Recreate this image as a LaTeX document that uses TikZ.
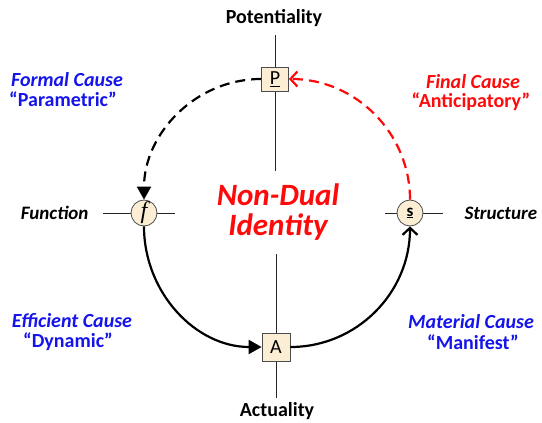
\documentclass[tikz,border=0pt]{standalone}
\usepackage{fontspec}
\setmainfont{Carlito}
\newfontfamily\serifit{Liberation Serif}
\usetikzlibrary{arrows.meta}
\definecolor{cblue}{RGB}{20,20,235}
\definecolor{cred}{RGB}{255,10,10}
\definecolor{beige}{RGB}{252,238,212}
\begin{document}
\begin{tikzpicture}[x=1pt,y=-1pt,
  axis/.style={line width=1pt,black!85},
  boxnode/.style={draw=black!70,line width=0.8pt,fill=beige,minimum width=27pt,minimum height=24pt,inner sep=0pt,font=\fontsize{20}{20}\selectfont},
  circnode/.style={circle,draw=black!70,line width=0.8pt,fill=beige,minimum size=26pt,inner sep=0pt},
  flow/.style={line width=2.2pt,black},
  cause/.style={inner sep=0pt,font=\bfseries\itshape\fontsize{20}{22}\selectfont},
  causesub/.style={inner sep=0pt,font=\bfseries\fontsize{20}{22}\selectfont},
  pole/.style={font=\bfseries\fontsize{20}{20}\selectfont},
  side/.style={font=\bfseries\itshape\fontsize{19}{20}\selectfont}
]
\useasboundingbox (0,0) rectangle (542,423);
% axis end points
\coordinate (pt) at (275,35);
\coordinate (pb) at (275,171);
\coordinate (at) at (276,254);
\coordinate (ab) at (276,398);
\coordinate (fl) at (103,213);
\coordinate (fr) at (175,213);
\coordinate (sl) at (385,213);
\coordinate (sr) at (443,213);
\draw[axis] (pt) -- (pb);
\draw[axis] (at) -- (ab);
\draw[axis] (fl) -- (fr);
\draw[axis] (sl) -- (sr);
% nodes
\node[boxnode] (P) at (275,79) {\underline{P}};
\node[boxnode,minimum width=28pt,minimum height=28pt] (A) at (276,347) {A};
\node[circnode] (f) at (144,213) {\serifit\itshape\fontsize{24}{24}\selectfont f};
\node[circnode] (s) at (410,213) {\bfseries\fontsize{17}{17}\selectfont\underline{s}};
% connectors
\draw[flow,dash pattern=on 10pt off 6pt,-{Triangle[length=13pt,width=14pt]}] (P.west) to[out=180,in=90] (f.north);
\draw[flow,cred,dash pattern=on 10pt off 6pt,-{Straight Barb[length=7pt,width=15pt,line width=2.2pt]}] (s.north) to[out=90,in=0] (P.east);
\draw[flow,-{Triangle[length=13pt,width=14pt]}] (f.south) to[out=-90,in=180] (A.west);
\draw[flow,-{Straight Barb[length=7pt,width=15pt,line width=2.2pt]}] (A.east) to[out=0,in=-90] (s.south);
% texts
\node[pole] (tpot) at (274,18) {Potentiality};
\node[pole] (tact) at (277,411) {Actuality};
\node[side,anchor=east] (tfun) at (92,213) {Function};
\node[side,anchor=west] (tstr) at (461,213) {Structure};
\node[cred,font=\bfseries\itshape\fontsize{31}{31}\selectfont,align=center] (nd) at (278,212) {Non-Dual\\[-1pt]Identity};
\node[cause,cblue] (fc1) at (67,80) {Formal Cause};
\node[causesub,cblue] (fc2) at (63,99) {“Parametric”};
\node[cause,cred] (fi1) at (473,82) {Final Cause};
\node[causesub,cred] (fi2) at (471,102) {“Anticipatory”};
\node[cause,cblue] (ec1) at (72,321) {Efficient Cause};
\node[causesub,cblue] (ec2) at (68,342) {“Dynamic”};
\node[cause,cblue] (mc1) at (471,322) {Material Cause};
\node[causesub,cblue] (mc2) at (473,342) {“Manifest”};
\end{tikzpicture}
\end{document}
